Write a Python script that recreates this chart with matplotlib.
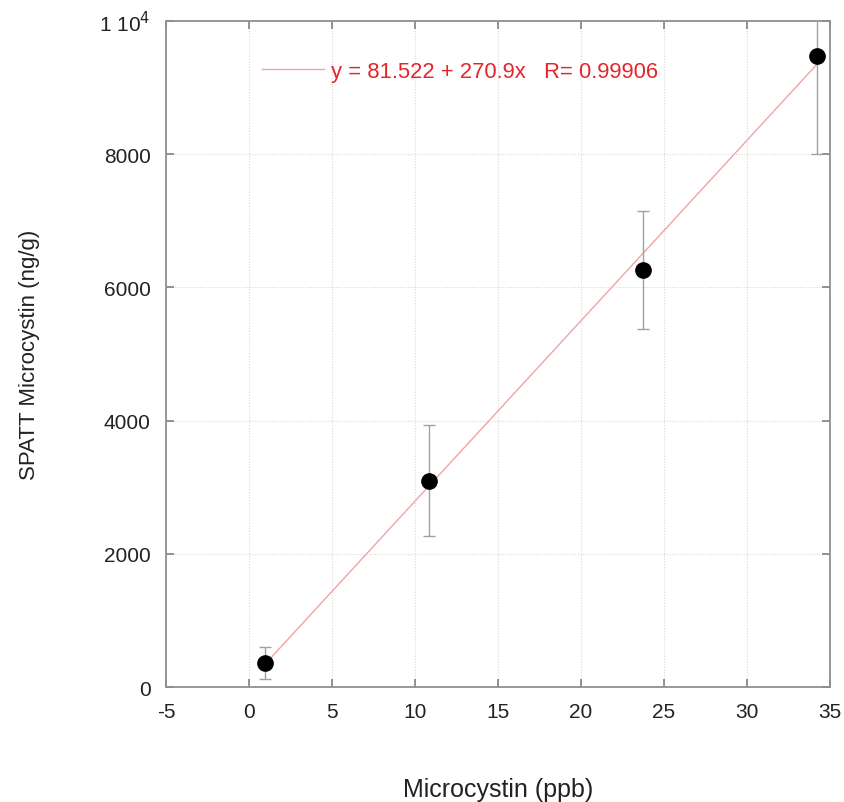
import numpy as np
import matplotlib.pyplot as plt

plt.rcParams['font.family'] = ['Liberation Sans', 'DejaVu Sans']
plt.rcParams['axes.unicode_minus'] = False

# sample data: microcystin in water vs. SPATT-adsorbed microcystin
conc_ppb = [0.96, 10.84, 23.73, 34.2]
spatt_ngg = [360, 3100, 6260, 9480]
spatt_err = [240, 830, 890, 1480]

# linear fit reported on the chart
fit_a = 81.522
fit_b = 270.9
fit_r = 0.99906

xticks = [-5, 0, 5, 10, 15, 20, 25, 30, 35]
yticks = [0, 2000, 4000, 6000, 8000, 10000]
ytick_labels = ['0', '2000', '4000', '6000', '8000', '1 10$^4$']

fig = plt.figure(figsize=(8.44, 8.03), dpi=100)
ax = fig.add_axes([0.1967, 0.1432, 0.7867, 0.8294])

xfit = np.array([min(conc_ppb), max(conc_ppb)])
yfit = fit_a + fit_b * xfit
ax.plot(xfit, yfit, color='#f3a3a3', lw=1.0, zorder=2,
        label='y = %.3f + %.1fx   R= %.5f' % (fit_a, fit_b, fit_r))

ax.errorbar(conc_ppb, spatt_ngg, yerr=spatt_err, fmt='none', ecolor='#a0a0a0',
            elinewidth=1.0, capsize=4, capthick=1.0, zorder=3)
ax.plot(conc_ppb, spatt_ngg, 'o', color='black', ms=11, zorder=4)

ax.set_xlim(-5, 35)
ax.set_ylim(0, 10000)
ax.set_xticks(xticks)
ax.set_yticks(yticks)
ax.set_yticklabels(ytick_labels)

ax.grid(True, color='#d8d8d8', lw=0.8, ls=(0, (1, 1.5)))
ax.set_axisbelow(True)
for s in ax.spines.values():
    s.set_color('#909090')
    s.set_linewidth(1.3)
ax.tick_params(direction='in', length=6, width=1.2, color='#808080',
               top=True, right=True, labelsize=15, pad=11, labelcolor='#222222')

ax.set_xlabel('Microcystin (ppb)', fontsize=18, labelpad=40, color='#222222')
ax.set_ylabel('SPATT Microcystin (ng/g)', fontsize=16, labelpad=43, color='#222222')

leg = ax.legend(loc='upper left', bbox_to_anchor=(0.115, 0.97), frameon=False,
                fontsize=15.8, handlelength=2.8, handletextpad=0.35)
for t in leg.get_texts():
    t.set_color('#e3262b')

fig.savefig('out.png', dpi=100)
